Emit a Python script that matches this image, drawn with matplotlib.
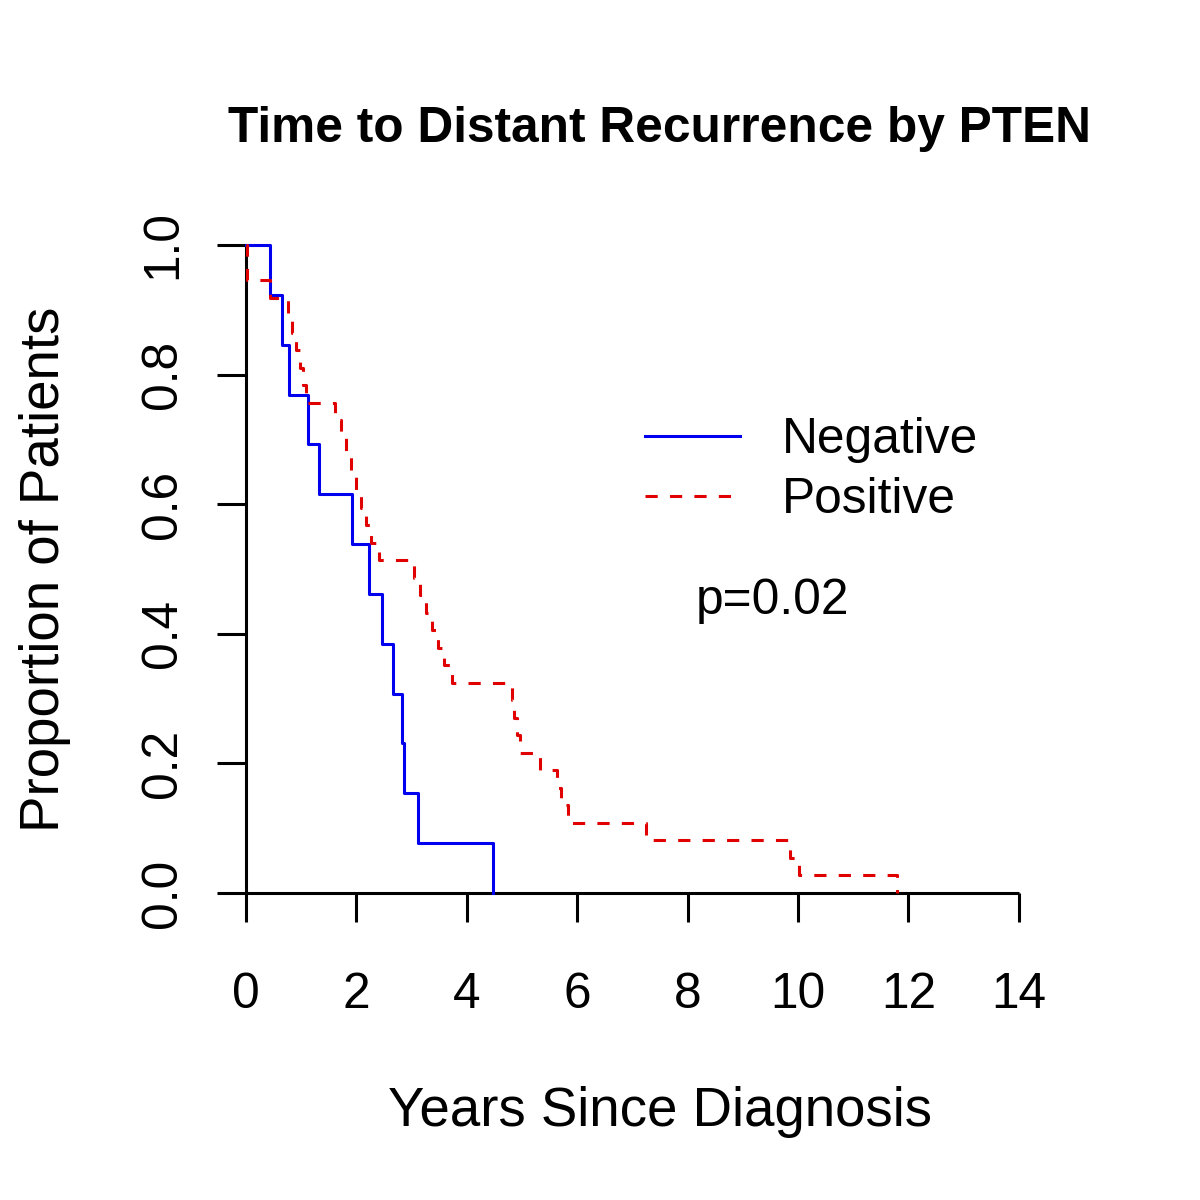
import numpy as np
import matplotlib.pyplot as plt

plt.rcParams['font.family'] = ['Liberation Sans', 'DejaVu Sans']

# event times (years), no censoring visible
neg_times = [0.44, 0.65, 0.77, 1.13, 1.32, 1.92, 2.23, 2.46, 2.67, 2.83, 2.86, 3.12, 4.48]
pos_times = [0.02, 0.02, 0.44,
             0.76, 0.83, 0.91, 0.98, 1.03, 1.09,
             1.61, 1.72, 1.81, 1.90, 1.99, 2.08, 2.17, 2.27, 2.41,
             3.05, 3.16, 3.26, 3.37, 3.48, 3.59, 3.74,
             4.82, 4.86, 4.91, 4.97,
             5.33,
             5.64, 5.70, 5.84,
             7.24,
             9.85, 10.01, 11.79]

group_labels = ['Negative', 'Positive']
x_ticks = [0, 2, 4, 6, 8, 10, 12, 14]
y_ticks = [0.0, 0.2, 0.4, 0.6, 0.8, 1.0]
p_text = 'p=0.02'


def km_steps(times):
    # Kaplan-Meier without censoring: survival drops by 1/n at each event
    t = np.sort(np.asarray(times, dtype=float))
    n = len(t)
    surv = 1.0 - np.arange(1, n + 1) / n
    return np.concatenate([[0.0], t]), np.concatenate([[1.0], surv])


fig = plt.figure(figsize=(12, 12), dpi=100)
ax = fig.add_axes([246 / 1200, 1 - 893 / 1200, (1074 - 246) / 1200, (893 - 245) / 1200])

lw = 2.2
tn, sn = km_steps(neg_times)
tp, sp = km_steps(pos_times)
ax.plot(tn, sn, drawstyle='steps-post', color='#0000ee', lw=lw,
        label=group_labels[0], clip_on=False, zorder=3)
ax.plot(tp, sp, drawstyle='steps-post', color='#e00000', lw=lw,
        dashes=(4.0, 4.0), label=group_labels[1], clip_on=False, zorder=3)

ax.set_xlim(0, 15)
ax.set_ylim(0, 1)
for s in ['top', 'right']:
    ax.spines[s].set_visible(False)
ax.spines['bottom'].set_bounds(0, 14)
for s in ['left', 'bottom']:
    ax.spines[s].set_linewidth(lw)
    ax.spines[s].set_capstyle('butt')

ax.set_xticks(x_ticks)
ax.set_xticklabels([str(v) for v in x_ticks])
ax.set_yticks(y_ticks)
ax.set_yticklabels([f'{v:.1f}' for v in y_ticks], rotation=90, va='center')
ax.tick_params(direction='out', length=21, width=lw, labelsize=35.7)
ax.tick_params(axis='x', pad=36)
ax.tick_params(axis='y', pad=22)

fig.text(660 / 1200, 1 - 142 / 1200, 'Time to Distant Recurrence by PTEN',
         ha='center', va='baseline', fontsize=35.7, fontweight='bold')
fig.text(660 / 1200, 1 - 1126 / 1200, 'Years Since Diagnosis',
         ha='center', va='baseline', fontsize=39.3)
fig.text(45 / 1200, 1 - 569 / 1200, 'Proportion of Patients',
         ha='center', va='center', rotation=90, fontsize=39.3)

ax.text(9.53, 0.45, p_text, ha='center', va='center', fontsize=35.7)

leg = ax.legend(loc='upper left', bbox_to_anchor=(645 / 1200, 1 - 417 / 1200),
                bbox_transform=fig.transFigure, frameon=False, fontsize=35.7,
                handlelength=1.92, handletextpad=0.85, labelspacing=0.28,
                borderpad=0, borderaxespad=0)

fig.savefig('out.png', dpi=100)
